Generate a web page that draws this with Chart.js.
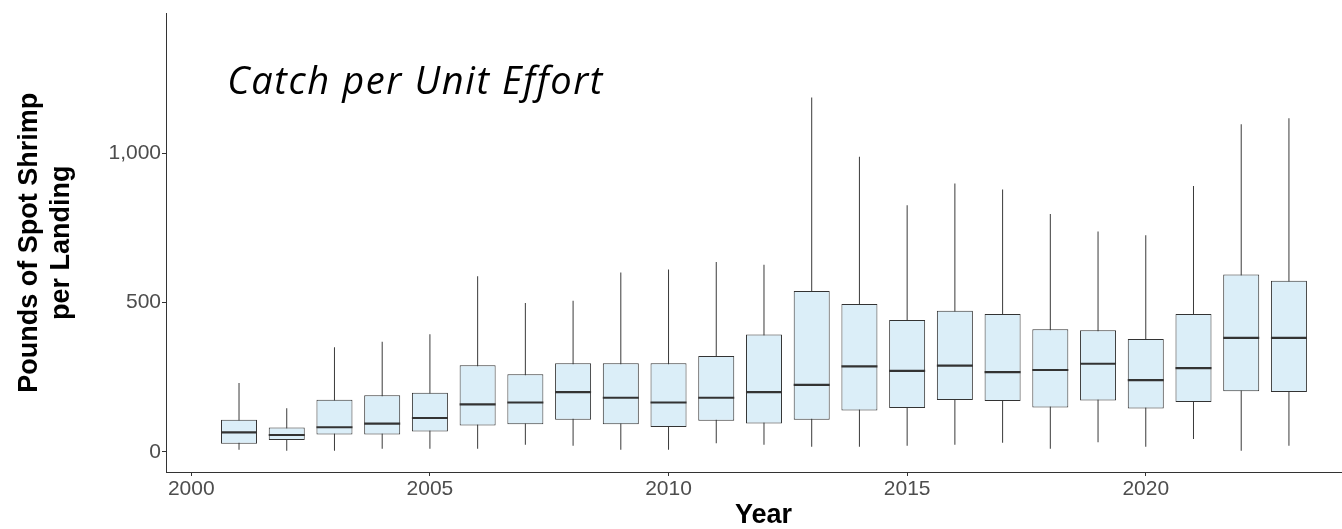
<!DOCTYPE html>
<html>
<head>
<meta charset="utf-8">
<script src="https://cdn.jsdelivr.net/npm/chart.js@4.4.1/dist/chart.umd.min.js"></script>
<style>
    html, body { margin: 0; padding: 0; background: #fff; overflow: hidden; }
    /* the panel runs a little past the right edge of the window, like the original */
    #wrap { width: 1361px; height: 529px; }
</style>
</head>
<body>
<div id="wrap"><canvas id="cpueChart"></canvas></div>
<script>
// box plot summaries (pounds per landing)
const years = [2001, 2002, 2003, 2004, 2005, 2006, 2007, 2008, 2009, 2010, 2011, 2012,
               2013, 2014, 2015, 2016, 2017, 2018, 2019, 2020, 2021, 2022, 2023];
const whiskerLow  = [7, 3, 3, 10, 10, 10, 23, 20, 7, 7, 28, 23,
                     17, 17, 20, 23, 30, 10, 32, 17, 43, 3, 20];
const lowerQuart  = [27, 39, 58, 58, 68, 88, 92, 107, 92, 83, 104, 95,
                     107, 138, 147, 173, 170, 148, 172, 145, 167, 203, 200];
const medians     = [65, 56, 82, 94, 113, 159, 165, 200, 181, 165, 181, 200,
                     224, 286, 271, 289, 267, 274, 295, 240, 280, 382, 382];
const upperQuart  = [107, 81, 174, 189, 198, 290, 260, 297, 297, 297, 321, 393,
                     539, 495, 442, 473, 462, 411, 407, 378, 462, 594, 573];
const whiskerHigh = [230, 146, 350, 369, 394, 588, 499, 506, 601, 611, 636, 627,
                     1188, 989, 826, 899, 879, 797, 738, 726, 891, 1098, 1118];

const xTicks = [2000, 2005, 2010, 2015, 2020];
const yTicks = [0, 500, 1000];

const noteText = 'Catch per Unit Effort';
const noteX = 2004.7;
const noteY = 1198;

const boxFill = '#DBEEF8';
const lineDark = '#333333';

const toFloating = (lo, hi) => years.map((yr, i) => ({ x: yr, y: [lo[i], hi[i]] }));

// median bars across each box, placed with the y scale and the box elements
const medianPlugin = {
    id: 'medians',
    afterDatasetsDraw(chart) {
        const { ctx, scales } = chart;
        const boxes = chart.getDatasetMeta(0).data;
        ctx.save();
        ctx.strokeStyle = lineDark;
        ctx.lineWidth = 2.2;
        medians.forEach((m, i) => {
            const bar = boxes[i];
            const y = scales.y.getPixelForValue(m);
            ctx.beginPath();
            ctx.moveTo(bar.x - bar.width / 2, y);
            ctx.lineTo(bar.x + bar.width / 2, y);
            ctx.stroke();
        });
        ctx.restore();
    }
};

// annotation placed at data coordinates, like annotate() in the original
const notePlugin = {
    id: 'note',
    afterDatasetsDraw(chart) {
        const { ctx, scales } = chart;
        ctx.save();
        ctx.font = 'italic 38px "Open Sans", sans-serif';
        ctx.letterSpacing = '1.6px';
        ctx.fillStyle = '#000';
        ctx.textAlign = 'center';
        ctx.textBaseline = 'alphabetic';
        ctx.fillText(noteText, scales.x.getPixelForValue(noteX), scales.y.getPixelForValue(noteY));
        ctx.restore();
    }
};

new Chart(document.getElementById('cpueChart'), {
    type: 'bar',
    data: {
        datasets: [
            {
                // the box, q1 to q3
                data: toFloating(lowerQuart, upperQuart),
                backgroundColor: boxFill,
                borderColor: lineDark,
                borderWidth: 1,
                borderSkipped: false,
                inflateAmount: 0,
                barThickness: 36,
                grouped: false
            },
            {
                // whiskers, drawn first so the boxes cover them
                data: toFloating(whiskerLow, whiskerHigh),
                backgroundColor: '#3a3a3a',
                borderWidth: 0,
                inflateAmount: 0,
                barThickness: 1,
                grouped: false
            }
        ]
    },
    options: {
        responsive: true,
        maintainAspectRatio: false,
        animation: false,
        layout: { padding: { top: 8, left: 0, right: 0, bottom: 0 } },
        plugins: {
            legend: { display: false },
            tooltip: { enabled: false }
        },
        scales: {
            x: {
                type: 'linear',
                min: 1999.47,
                max: 2024.51,
                offset: false,
                afterBuildTicks: (scale) => { scale.ticks = xTicks.map(v => ({ value: v })); },
                afterFit: (scale) => { scale.height = 57; },
                grid: { offset: false, drawOnChartArea: false, drawTicks: true, tickLength: 4, color: lineDark },
                border: { display: true, color: lineDark, width: 1 },
                ticks: {
                    padding: 1,
                    maxRotation: 0,
                    color: '#4D4D4D',
                    font: { family: '"Liberation Sans", Arial, sans-serif', size: 21 },
                    callback: (v) => String(v)
                },
                title: {
                    display: true,
                    text: 'Year',
                    color: '#000',
                    padding: { top: 0, bottom: 0 },
                    font: { family: '"Liberation Sans", Arial, sans-serif', size: 27, weight: 'bold', lineHeight: 1 }
                }
            },
            y: {
                min: -68,
                max: 1469,
                afterBuildTicks: (scale) => { scale.ticks = yTicks.map(v => ({ value: v })); },
                afterFit: (scale) => { scale.width = 166; },
                grid: { drawOnChartArea: false, drawTicks: true, tickLength: 4, color: lineDark },
                border: { display: true, color: lineDark, width: 1 },
                ticks: {
                    padding: 1,
                    color: '#4D4D4D',
                    font: { family: '"Liberation Sans", Arial, sans-serif', size: 21 },
                    callback: (v) => v.toLocaleString('en-US')
                },
                title: {
                    display: true,
                    text: ['Pounds of Spot Shrimp', 'per Landing'],
                    color: '#000',
                    padding: { top: 13, bottom: 0 },
                    font: { family: '"Liberation Sans", Arial, sans-serif', size: 27, weight: 'bold', lineHeight: 1.2 }
                }
            }
        }
    },
    plugins: [medianPlugin, notePlugin]
});
</script>
</body>
</html>
